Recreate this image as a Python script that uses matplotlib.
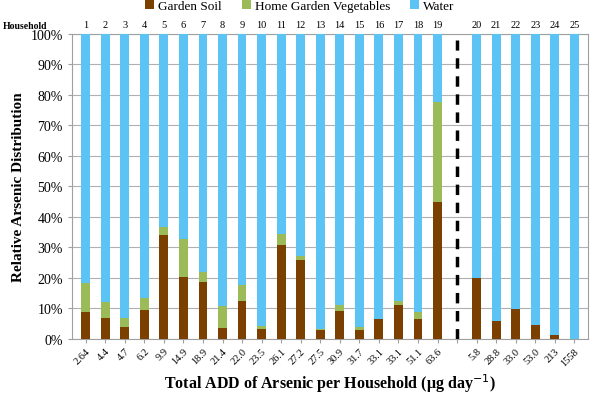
import numpy as np
import matplotlib
matplotlib.use("Agg")
from matplotlib import pyplot as plt

households = [str(i) for i in range(1, 20)] + [""] + [str(i) for i in range(20, 26)]
add_labels = ["2.64", "4.4", "4.7", "6.2", "9.9", "14.9", "18.9", "21.4", "22.0", "23.5",
              "26.1", "27.2", "27.5", "30.9", "31.7", "33.1", "33.1", "51.1", "63.6", "",
              "5.8", "28.8", "33.0", "53.0", "213", "1558"]
# percent shares; the empty slot (index 19) is the separator gap
soil = [8.9, 6.9, 3.9, 9.5, 34.1, 20.3, 18.7, 3.6, 12.5, 3.3,
        30.8, 25.9, 3.0, 9.2, 3.0, 6.6, 11.1, 6.6, 45.0, 0,
        20.0, 5.9, 9.8, 4.6, 1.3, 0.0]
veg = [9.5, 5.2, 3.0, 3.9, 2.6, 12.5, 3.3, 7.2, 5.2, 1.0,
       3.6, 1.3, 0.3, 1.9, 0.9, 0.0, 1.4, 2.3, 32.7, 0,
       0.0, 0.0, 0.0, 0.0, 0.0, 0.0]
gap_index = 19

plt.rcParams["font.family"] = ["Liberation Serif", "DejaVu Serif"]

soil = np.array(soil)
veg = np.array(veg)
water = 100.0 - soil - veg
water[gap_index] = 0

x = np.arange(len(households))
fig = plt.figure(figsize=(6, 4.06), dpi=100)
ax = fig.add_axes([0.12, 0.1626, 0.86, 0.7512])

w = 0.45
ax.bar(x, soil, w, color="#7B3F00", label="Garden Soil", zorder=3)
ax.bar(x, veg, w, bottom=soil, color="#9BBB59", label="Home Garden Vegetables", zorder=3)
ax.bar(x, water, w, bottom=soil + veg, color="#5CC4F5", label="Water", zorder=3)

ax.plot([gap_index, gap_index], [0, 98], color="black", lw=2.5, ls=(0, (3, 2.2)), zorder=4)

ax.set_xlim(-0.7, len(x) - 0.3)
ax.set_ylim(0, 100)
ax.set_yticks(np.arange(0, 101, 10))
ax.set_yticklabels(["{}%".format(v) for v in range(0, 101, 10)], fontsize=10)
ax.yaxis.grid(True, color="#B0B0B0", lw=0.8, zorder=0)
ax.set_xticks(x)
ax.set_xticklabels(add_labels, rotation=45, ha="right", rotation_mode="anchor", fontsize=7.5)
ax.tick_params(axis="x", length=3, color="#A0A0A0", pad=2)
ax.tick_params(axis="y", length=3, color="#A0A0A0")
for s in ax.spines.values():
    s.set_color("#A0A0A0")
    s.set_linewidth(0.8)

# household numbers above the plot
for xi, h in zip(x, households):
    ax.text(xi, 101.8, h, ha="center", va="bottom", fontsize=7.5)
fig.text(0.005, 0.928, "Household", ha="left", va="baseline", fontsize=7, weight="bold")

ax.set_ylabel("Relative Arsenic Distribution", fontsize=11, weight="bold")
ax.set_xlabel("Total ADD of Arsenic per Household (\u03bcg day$^{-1}$)", fontsize=11.5, weight="bold",
              labelpad=3)

fig.legend(loc="upper center", bbox_to_anchor=(0.5, 1.005), ncol=3, frameon=False, fontsize=9.5,
           handlelength=0.7, handleheight=0.7, handletextpad=0.3, columnspacing=1.5,
           borderaxespad=0.1, borderpad=0.1)

fig.savefig("out.png", dpi=100)
